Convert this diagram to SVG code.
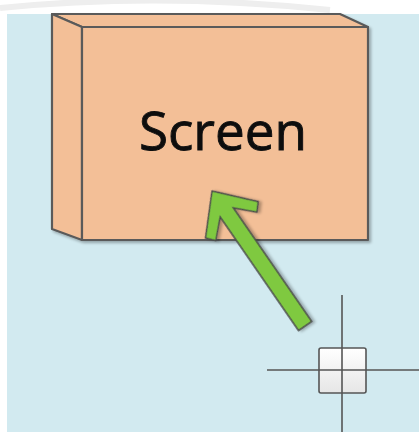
<svg xmlns="http://www.w3.org/2000/svg" width="419" height="432" viewBox="0 0 419 432">
  <defs>
    <linearGradient id="sq" x1="0" y1="0" x2="0" y2="1">
      <stop offset="0" stop-color="#ffffff"/>
      <stop offset="1" stop-color="#e6e6e6"/>
    </linearGradient>
    <filter id="sh" x="-20%" y="-20%" width="140%" height="140%">
      <feGaussianBlur in="SourceAlpha" stdDeviation="1.5"/>
      <feOffset dx="1.5" dy="1.5" result="b"/>
      <feComponentTransfer><feFuncA type="linear" slope="0.3"/></feComponentTransfer>
      <feMerge><feMergeNode/><feMergeNode in="SourceGraphic"/></feMerge>
    </filter>
    <style>
      .box { fill: #F3BF97; stroke: #5a5a5a; stroke-width: 2.2; stroke-linejoin: round; }
      .line { stroke: #555; stroke-width: 1.6; fill: none; }
    </style>
  </defs>
  <rect x="0" y="0" width="419" height="432" fill="#ffffff"/>
  <path d="M0,8 Q160,-8 330,10" fill="none" stroke="#eeeeee" stroke-width="6"/>
  <rect x="7" y="14" width="412" height="418" fill="#D2EAF0"/>

  <g id="screen" filter="url(#sh)">
    <polygon class="box" points="52,14 340,14 368,27 82,27"/>
    <polygon class="box" points="52,14 82,27 82,240 52,229"/>
    <rect class="box" x="82" y="27" width="286" height="213"/>
    <text x="223" y="150" font-family="Open Sans, Liberation Sans, sans-serif" font-size="53" text-anchor="middle" fill="#111" stroke="#111" stroke-width="0.9">Screen</text>
  </g>

  <g id="connectors">
    <polygon transform="translate(212,191) rotate(-34.6)" points="0,0 32,35 25,43 8,26 8,164 -8,164 -8,26 -25,43 -32,35" fill="#7FC93F" stroke="#4a4a4a" stroke-width="1.5" stroke-linejoin="miter" filter="url(#sh)"/>
  </g>

  <g id="cursor">
    <rect x="319" y="348" width="47" height="45" rx="2" fill="url(#sq)" stroke="#555" stroke-width="1.6"/>
    <line class="line" x1="342" y1="295" x2="342" y2="432"/>
    <line class="line" x1="267" y1="370" x2="419" y2="370"/>
  </g>
</svg>
